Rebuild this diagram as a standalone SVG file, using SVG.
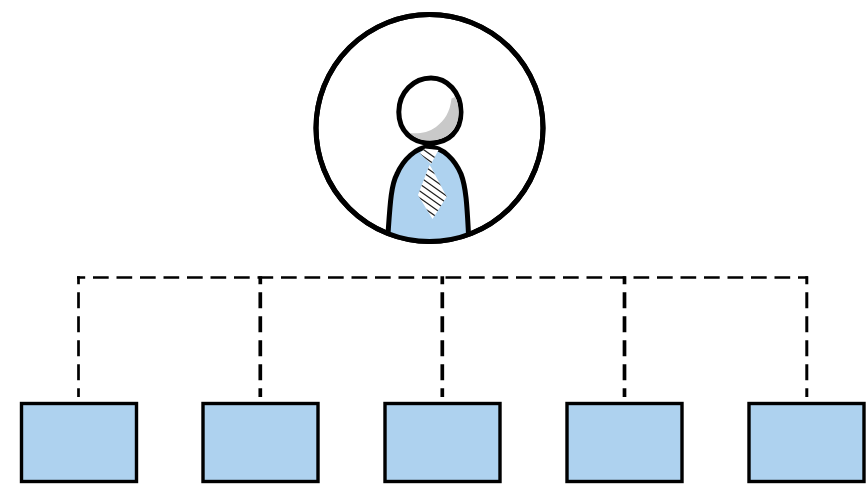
<svg xmlns="http://www.w3.org/2000/svg" width="866" height="485" viewBox="0 0 866 485">
<defs>
<style>
.box{fill:#aed2ef;stroke:#000;stroke-width:3.400}
.ln{fill:none;stroke:#000;stroke-linecap:butt}
.v{stroke-dasharray:16 8;stroke-dashoffset:8}
.h{stroke-width:2.700;stroke-dasharray:15.7 7.8;stroke-dashoffset:7.5}
.hatch{stroke:#222;stroke-width:1.300;fill:none}
</style>
<clipPath id="tieClip"><path d="M420 153L425 148.500L438.500 150L431 164L419.500 153ZM429.500 165L418 195L432.500 219L446.700 196.700L431.500 168Z"/></clipPath>
<clipPath id="circleClip"><circle cx="429.500" cy="128" r="113"/></clipPath>
</defs>
<rect width="866" height="485" fill="#fff"/>
<g id="connectors">
<path class="ln h" d="M77 277.500H808"/>
<path class="ln v" stroke-width="2.700" d="M78.500 276.200V397"/>
<path class="ln v" stroke-width="3.700" d="M260.300 276.200V397"/>
<path class="ln v" stroke-width="3.700" d="M442.300 276.200V397"/>
<path class="ln v" stroke-width="3.700" d="M624.500 276.200V397"/>
<path class="ln v" stroke-width="3" d="M806.800 276.200V397"/>
</g>
<g id="person">
<circle cx="429.500" cy="128" r="113.500" fill="#fff" stroke="#000" stroke-width="5"/>
<path clip-path="url(#circleClip)" d="M388 245C390 205 391 185 397 174C403 160 416 147 429 147C443 147 455 160 461 174C466 187 467 205 468.500 245Z" fill="#aed2ef"/>
<path d="M388 234C390 205 391 185 397 174C403 160 416 147 429 147C443 147 455 160 461 174C466 187 467 205 468.500 234" fill="none" stroke="#000" stroke-width="5"/>
<circle cx="429.500" cy="128" r="113.500" fill="none" stroke="#000" stroke-width="5"/>
<path d="M420 153L425 148.500L438.500 150L431 164ZM429.500 165L418 195L432.500 219L446.700 196.700L431.500 168Z" fill="#fff"/>
<g clip-path="url(#tieClip)" class="hatch">
<path d="M410 140L455 172M410 147L455 179M410 156L455 188M410 163L455 195M410 170L455 202M410 177L455 209M410 184L455 216M410 191L455 223M410 198L455 230"/>
</g>
<path d="M431 78C414 78 398.800 92 398.800 112C398.800 131 412 143 430 143C449 143 461 131 461 112C461 92 447 78 431 78Z" fill="#fff" stroke="#000" stroke-width="5"/>
<path d="M451.500 98.500C450 112 445 120 436 127C428 133 418 134 410 133C416 139 422 140.500 430 140.500C447 140.500 458.800 129 458.800 112C458.800 106 457 100 455 97Z" fill="#c9c9c9"/>
</g>
<g id="box1"><rect class="box" x="21.500" y="403.500" width="115" height="78"/></g>
<g id="box2"><rect class="box" x="203" y="403.500" width="115" height="78"/></g>
<g id="box3"><rect class="box" x="385" y="403.500" width="115" height="78"/></g>
<g id="box4"><rect class="box" x="567" y="403.500" width="115" height="78"/></g>
<g id="box5"><rect class="box" x="749" y="403.500" width="115" height="78"/></g>
</svg>
